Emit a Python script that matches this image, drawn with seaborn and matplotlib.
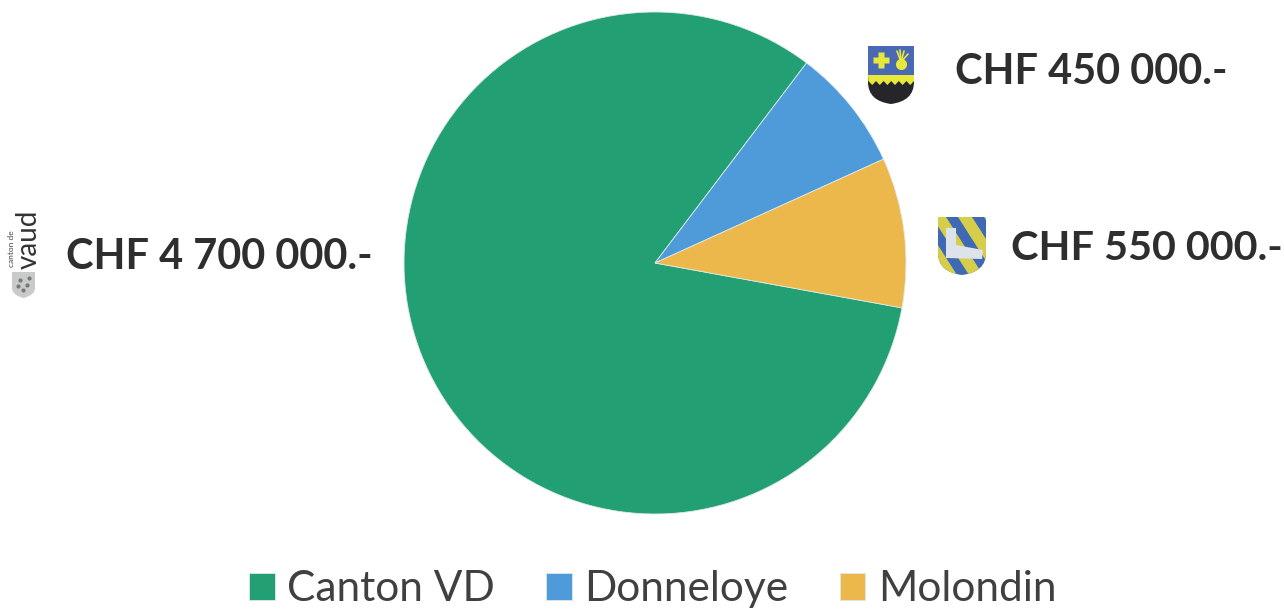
import matplotlib
matplotlib.use("Agg")
import matplotlib.pyplot as plt
from matplotlib.patches import Polygon, PathPatch, Rectangle
from matplotlib.path import Path
import seaborn as sns

# montants
categories = ["Canton VD", "Donneloye", "Molondin"]
values = [4700000, 450000, 550000]
amount_labels = ["CHF 4 700 000.-", "CHF 450 000.-", "CHF 550 000.-"]
colors = ["#22A074", "#4F9BD9", "#EDB84B"]

W, H = 1284, 609

sns.set_theme(style="white")
plt.rcParams["font.family"] = ["Lato", "DejaVu Sans"]

fig = plt.figure(figsize=(W / 100, H / 100), dpi=100)

# fond en pixels pour les textes et les blasons
bg = fig.add_axes([0, 0, 1, 1])
bg.set_xlim(0, W)
bg.set_ylim(H, 0)
bg.axis("off")

# camembert, centre (655, 263), rayon 251
cx, cy, r = 655, 263, 251
ax = fig.add_axes([(cx - r) / W, 1 - (cy + r) / H, 2 * r / W, 2 * r / H])
wedges, _ = ax.pie(
    values,
    colors=colors,
    startangle=349.7,
    counterclock=False,
    radius=1,
    wedgeprops={"edgecolor": "#dfe8e8", "linewidth": 0.6},
)
ax.set_xlim(-1, 1)
ax.set_ylim(-1, 1)

text_c = "#2E2E2E"
bg.text(66, 257, amount_labels[0], fontsize=29.9, fontweight="bold", color=text_c, va="center")
bg.text(955, 72, amount_labels[1], fontsize=29.9, fontweight="bold", color=text_c, va="center")
bg.text(1011, 248, amount_labels[2], fontsize=29.8, fontweight="bold", color=text_c, va="center")

# legende
bg.legend(
    wedges,
    categories,
    loc="lower left",
    bbox_to_anchor=(215 / W, -33 / H),
    ncol=3,
    frameon=False,
    fontsize=30.5,
    labelcolor="#404040",
    handlelength=0.61,
    handleheight=0.61,
    handletextpad=0.3,
    columnspacing=1.2,
    borderpad=0.3,
)


def shield(x0, x1, y0, y1):
    xm = (x0 + x1) / 2
    ys = y0 + (y1 - y0) * 0.62
    verts = [(x0, y0), (x1, y0), (x1, ys), (x1, y1 - 3), (xm, y1), (x0, y1 - 3), (x0, ys), (x0, y0)]
    codes = [Path.MOVETO, Path.LINETO, Path.LINETO, Path.CURVE3, Path.CURVE3, Path.CURVE3, Path.CURVE3, Path.CLOSEPOLY]
    return Path(verts, codes)


# blason Donneloye
p = shield(868, 914, 46, 104)
patch = PathPatch(p, fc="#26262A", ec="none", zorder=3)
bg.add_patch(patch)
top = Rectangle((868, 46), 46, 30, fc="#4A69B5", ec="none", zorder=4)
bg.add_patch(top)
wave = [(868, 75), (914, 75), (914, 81)]
for i in range(6):
    wave += [(914 - i * 7.6 - 3.8, 85), (914 - (i + 1) * 7.6, 81)]
bg.add_patch(Polygon(wave, closed=True, fc="#E8E83A", ec="none", zorder=5))
bg.plot([881], [60], marker="P", ms=12, mfc="#E8E83A", mec="none", zorder=6)
bg.plot([901], [64], marker="o", ms=8, mfc="#E8E83A", mec="none", zorder=6)
for dx, dy in [(-4, -11), (-1, -12), (3, -11), (7, -8)]:
    bg.plot([901, 901 + dx], [62, 62 + dy], color="#E8E83A", lw=1.2, zorder=6)

# blason Molondin
p2 = shield(938, 986, 217, 275)
base = PathPatch(p2, fc="#3F68B5", ec="none", zorder=3)
bg.add_patch(base)
for off in [-32, -6, 20, 46]:
    st = Polygon(
        [(938 + off, 217), (952 + off, 217), (989 + off, 275), (975 + off, 275)],
        closed=True, fc="#D6CE4A", ec="none", zorder=4,
    )
    bg.add_patch(st)
    st.set_clip_path(base)
bg.add_patch(Polygon([(946, 228), (956, 228), (956, 245), (983, 250), (982, 259), (946, 258)],
                     closed=True, fc="#DDE3EA", ec="none", zorder=5))

# logo canton de Vaud
bg.text(29, 239, "vaud", rotation=90, fontsize=20, color="#333333", ha="center", va="center")
bg.text(12, 249, "canton de", rotation=90, fontsize=6, color="#444444", ha="center", va="center")
lg = PathPatch(shield(12, 35, 272, 298), fc="#C9CBC8", ec="none", zorder=3)
bg.add_patch(lg)
bg.plot([20, 27, 23, 18, 29], [280, 285, 290, 286, 278], ls="none", marker=".", ms=4, color="#77797A", zorder=4)

fig.savefig("out.png", dpi=100, facecolor="white")
